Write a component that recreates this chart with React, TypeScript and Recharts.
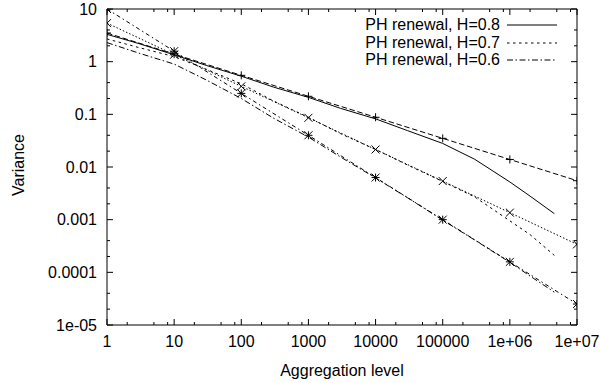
import { LineChart, Line, XAxis, YAxis, ReferenceArea, Legend, Label } from "recharts";

// aggregation levels where the fitted power laws are marked
const aggregationLevels = [1, 10, 100, 1000, 10000, 100000, 1000000, 10000000];
const fitH08 = [3.5, 1.39, 0.55, 0.22, 0.088, 0.035, 0.0139, 0.0055];
const fitH07 = [5.4, 1.36, 0.34, 0.086, 0.0215, 0.0054, 0.00136, 0.00034];
const fitH06 = [10, 1.58, 0.25, 0.04, 0.0063, 0.001, 0.000158, 0.000025];

// PH renewal curves
const renewalLevels = [1, 3, 10, 30, 100, 300, 1000, 3000, 10000, 30000, 100000, 300000, 1000000, 2000000, 4600000];
const renewalH08 = [3.3, 2.2, 1.35, 0.85, 0.53, 0.33, 0.21, 0.13, 0.082, 0.049, 0.028, 0.014, 0.0052, 0.0028, 0.0013];
const renewalH07 = [2.7, 1.85, 1.25, 0.72, 0.38, 0.18, 0.088, 0.043, 0.0215, 0.0109, 0.0053, 0.0027, 0.00095, 0.00052, 0.00021];
const renewalH06 = [2.3, 1.45, 0.9, 0.45, 0.2, 0.085, 0.037, 0.0155, 0.0062, 0.0026, 0.00098, 0.00041, 0.000155, 0.000085, 0.000042];

const xMajorTicks = [1, 10, 100, 1000, 10000, 100000, 1000000, 10000000];
const xTickLabels = ["1", "10", "100", "1000", "10000", "100000", "1e+06", "1e+07"];
const yMajorTicks = [0.00001, 0.0001, 0.001, 0.01, 0.1, 1, 10];
const yTickLabels = ["1e-05", "0.0001", "0.001", "0.01", "0.1", "1", "10"];
const xMinorSteps = [2, 5, 8];
const yMinorSteps = [2, 4];

const xMinorTicks = xMajorTicks.slice(0, -1).flatMap((d) => xMinorSteps.map((m) => m * d));
const yMinorTicks = yMajorTicks.slice(0, -1).flatMap((d) => yMinorSteps.map((m) => m * d));
const xTicks = [...xMajorTicks, ...xMinorTicks].sort((a, b) => a - b);
const yTicks = [...yMajorTicks, ...yMinorTicks].sort((a, b) => a - b);

const FONT = "'Liberation Sans', Arial, Helvetica, sans-serif";
const PLOT_LEFT = 107;
const PLOT_RIGHT = 577;
const PLOT_TOP = 9;
const PLOT_BOTTOM = 325;
const MAJOR = 6;
const MINOR = 3;
const MARK = 4;

const zip = (xs: number[], ys: number[]) => xs.map((x, i) => ({ x, y: ys[i] }));

const series = [
    { name: "PH renewal, H=0.8", data: zip(renewalLevels, renewalH08), dash: undefined },
    { name: "PH renewal, H=0.7", data: zip(renewalLevels, renewalH07), dash: "2.5 3.5" },
    { name: "PH renewal, H=0.6", data: zip(renewalLevels, renewalH06), dash: "6 2.5 1.5 2.5" },
];

const fits = [
    { id: "fit08", data: zip(aggregationLevels, fitH08), dash: "5.5 2.7", shape: "plus" },
    { id: "fit07", data: zip(aggregationLevels, fitH07), dash: "1.5 2", shape: "cross" },
    { id: "fit06", data: zip(aggregationLevels, fitH06), dash: "4 3 1.5 3", shape: "star" },
];

function Marker({ cx, cy, shape }: { cx?: number; cy?: number; shape: string }) {
    if (cx == null || cy == null) return null;
    return (
        <g stroke="#000" strokeWidth={1} fill="none">
            {shape !== "cross" && <path d={`M${cx - MARK},${cy}H${cx + MARK}M${cx},${cy - MARK}V${cy + MARK}`} />}
            {shape !== "plus" && <path d={`M${cx - MARK},${cy - MARK}L${cx + MARK},${cy + MARK}M${cx - MARK},${cy + MARK}L${cx + MARK},${cy - MARK}`} />}
        </g>
    );
}

const XTick = ({ x, payload }: any) => {
    const i = xMajorTicks.indexOf(payload.value);
    const len = i >= 0 ? MAJOR : MINOR;
    return (
        <g>
            <line x1={x} x2={x} y1={PLOT_BOTTOM} y2={PLOT_BOTTOM - len} stroke="#000" />
            <line x1={x} x2={x} y1={PLOT_TOP} y2={PLOT_TOP + len} stroke="#000" />
            {i >= 0 && (
                <text x={x} y={PLOT_BOTTOM + 22} textAnchor="middle" fontSize={16} fontFamily={FONT} fill="#000">
                    {xTickLabels[i]}
                </text>
            )}
        </g>
    );
};

const YTick = ({ y, payload }: any) => {
    const i = yMajorTicks.indexOf(payload.value);
    const len = i >= 0 ? MAJOR : MINOR;
    return (
        <g>
            <line x1={PLOT_LEFT} x2={PLOT_LEFT + len} y1={y} y2={y} stroke="#000" />
            <line x1={PLOT_RIGHT} x2={PLOT_RIGHT - len} y1={y} y2={y} stroke="#000" />
            {i >= 0 && (
                <text x={PLOT_LEFT - 10} y={y} dy="0.35em" textAnchor="end" fontSize={16} fontFamily={FONT} fill="#000">
                    {yTickLabels[i]}
                </text>
            )}
        </g>
    );
};

const LegendBox = () => (
    <div style={{ fontFamily: FONT, fontSize: 16, color: "#000" }}>
        {series.map((s) => (
            <div key={s.name} style={{ display: "flex", justifyContent: "flex-end", alignItems: "center", height: 17.5, whiteSpace: "nowrap" }}>
                <span>{s.name}</span>
                <svg width={50} height={4} style={{ marginLeft: 7 }}>
                    <line x1={0} x2={50} y1={2} y2={2} stroke="#000" strokeDasharray={s.dash} />
                </svg>
            </div>
        ))}
    </div>
);

export default function App() {
    return (
        <div style={{ position: "absolute", left: 0, top: 0, background: "#fff" }}>
            <LineChart width={600} height={383} margin={{ top: PLOT_TOP, right: 600 - PLOT_RIGHT, bottom: 28, left: 47 }}>
                <XAxis dataKey="x" type="number" scale="log" domain={[1, 10000000]} allowDataOverflow ticks={xTicks} interval={0}
                    tick={XTick} tickLine={false} axisLine={false} height={30}>
                    <Label content={() => (
                        <text x={(PLOT_LEFT + PLOT_RIGHT) / 2} y={375.5} textAnchor="middle" fontSize={16} fontFamily={FONT} fill="#000">Aggregation level</text>
                    )} />
                </XAxis>
                <YAxis type="number" scale="log" domain={[0.00001, 10]} allowDataOverflow ticks={yTicks} interval={0}
                    tick={YTick} tickLine={false} axisLine={false} width={60}>
                    <Label content={() => (
                        <text x={18.5} y={165} dy="0.35em" textAnchor="middle" fontSize={16} fontFamily={FONT} fill="#000" transform="rotate(-90 18.5 165)">Variance</text>
                    )} />
                </YAxis>
                <ReferenceArea x1={1} x2={10000000} y1={0.00001} y2={10} fill="none" stroke="#000" strokeWidth={1} ifOverflow="visible" />
                {series.map((s) => (
                    <Line key={s.name} data={s.data} dataKey="y" type="linear" stroke="#000" strokeWidth={1}
                        strokeDasharray={s.dash} dot={false} activeDot={false} isAnimationActive={false} legendType="none" />
                ))}
                {fits.map((f) => (
                    <Line key={f.id} data={f.data} dataKey="y" type="linear" stroke="#000" strokeWidth={1}
                        strokeDasharray={f.dash} activeDot={false} isAnimationActive={false} legendType="none"
                        dot={(p: any) => <Marker key={`${f.id}-${p.index}`} cx={p.cx} cy={p.cy} shape={f.shape} />} />
                ))}
                <Legend layout="vertical" align="center" verticalAlign="middle" content={<LegendBox />}
                    wrapperStyle={{ top: 16.25, left: 300, width: 257 }} />
            </LineChart>
        </div>
    );
}
